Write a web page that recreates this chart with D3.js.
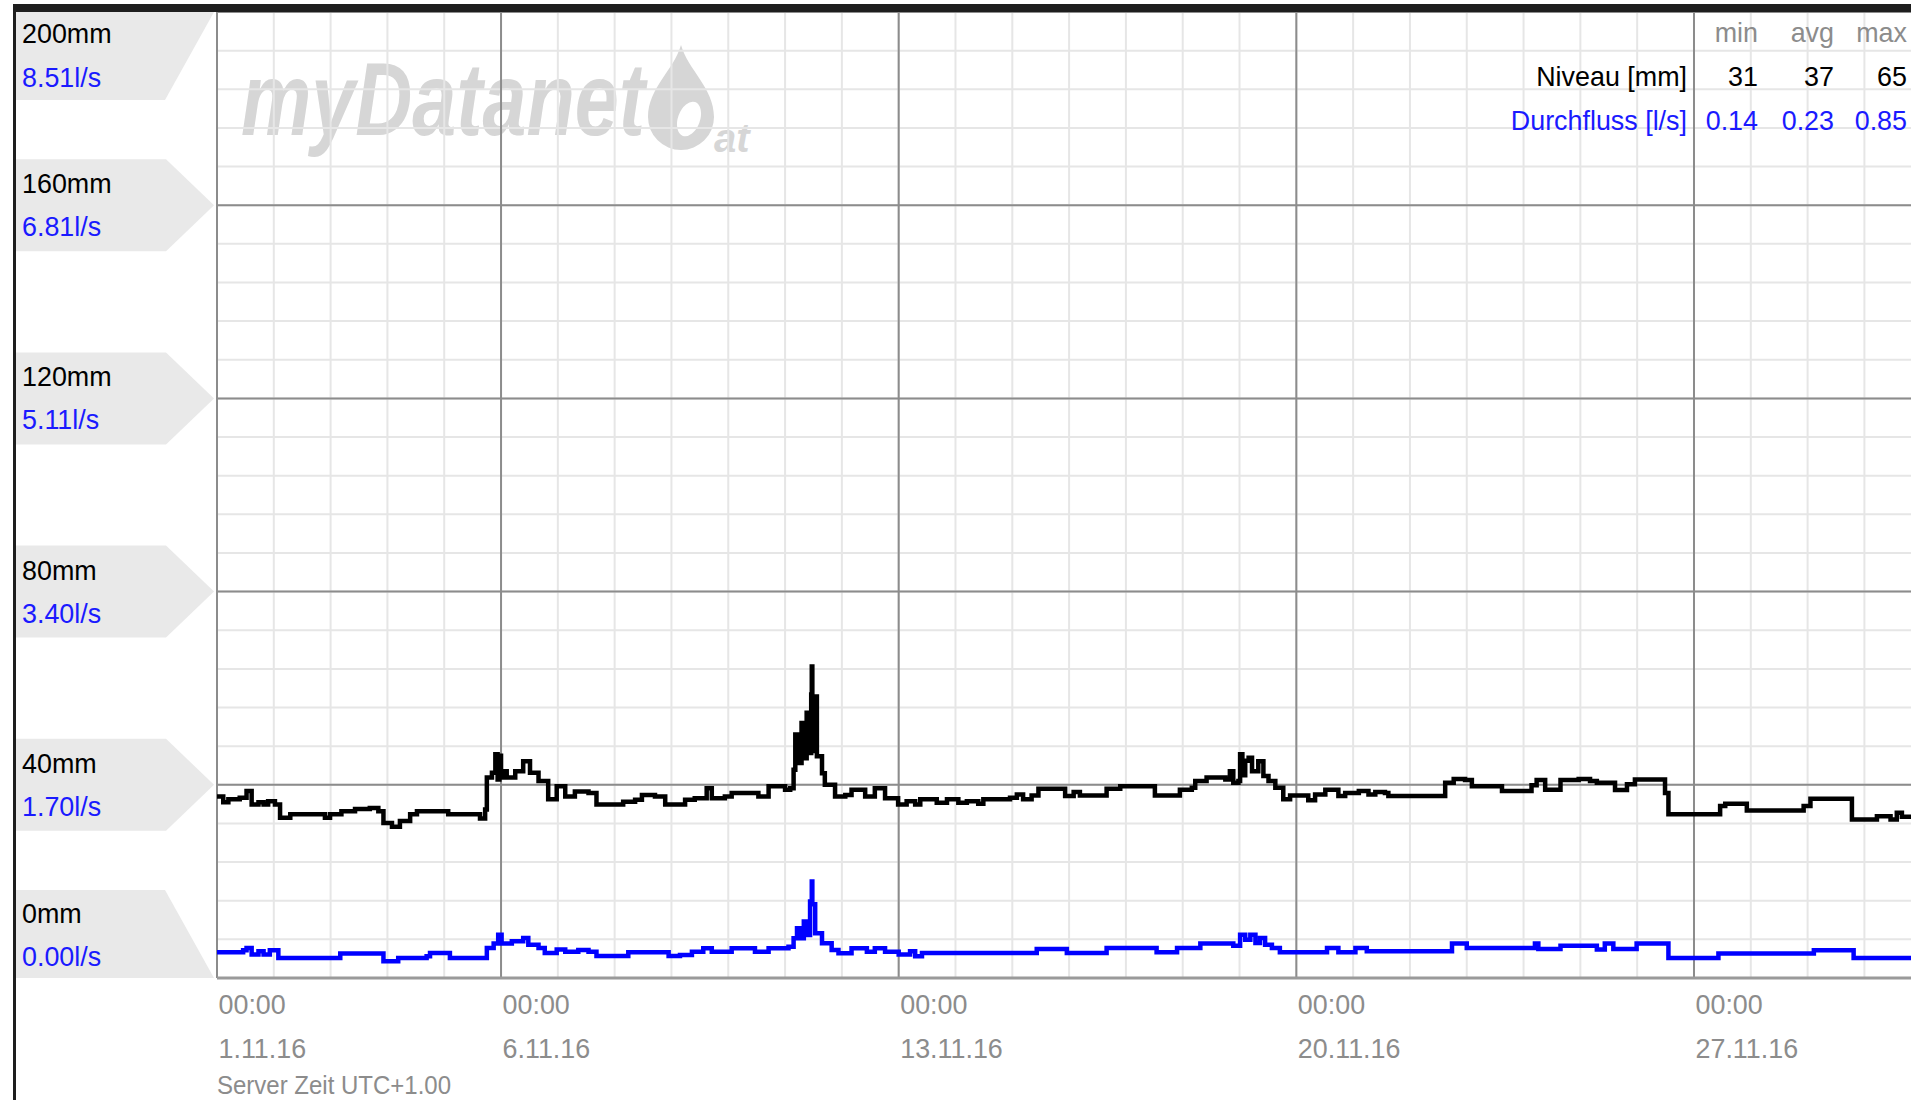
<!DOCTYPE html>
<meta charset="utf-8">
<script src="https://d3js.org/d3.v7.min.js"></script>
<style>
body { margin: 0; background: #fff; }
text { font-family: "Liberation Sans", Arial, sans-serif; font-size: 28px; }
.minor line { stroke: #e6e6e6; stroke-width: 2px; }
.major line { stroke: #8c8c8c; stroke-width: 2px; }
.lbl-box { fill: #e9e9e9; }
.mm { fill: #000; }
.ls { fill: #1a1aff; }
.gray { fill: #8c8c8c; }
.niveau { fill: none; stroke: #000; stroke-width: 4.5px; }
.flow { fill: none; stroke: #0000ff; stroke-width: 4.5px; }
.mark { fill: #d6d6d6; font-weight: bold; font-style: italic; }
</style>
<body></body>
<script>

// Niveau [mm]: [day since 1.11.16 00:00, mm]
var niveau = [
  [0,37.6],[0.11,36.4],[0.2,37.0],[0.4,37.3],[0.52,38.7],[0.61,35.9],[0.73,36.4],[0.82,35.9],[0.9,36.6],[1.02,35.9],
  [1.11,33.2],[1.29,33.9],[1.84,33.9],[1.9,33.2],[1.99,33.9],[2.19,34.5],[2.43,35.0],[2.69,35.2],[2.84,34.5],[2.93,32.1],
  [3.08,31.3],[3.22,32.5],[3.4,33.9],[3.52,34.5],[3.78,34.5],[4.07,33.9],[4.57,33.9],[4.63,33.0],[4.72,34.9],[4.75,41.5],
  [4.84,42.5],[4.9,46.3],[4.94,41.1],[4.97,46],[5.0,41.5],[5.04,42.8],[5.1,41.5],[5.25,42.8],[5.39,44.9],[5.51,42.5],
  [5.66,40.8],[5.83,37.0],[5.98,39.7],[6.13,37.6],[6.3,38.6],[6.54,38.3],[6.68,35.9],[7.07,35.9],[7.15,36.5],[7.36,36.9],
  [7.48,37.9],[7.71,37.6],[7.89,35.9],[8.06,35.9],[8.24,36.9],[8.41,37.2],[8.62,39.3],[8.71,37.2],[8.94,37.6],[9.06,38.3],
  [9.47,38.3],[9.53,37.6],[9.71,39.7],[9.88,39.7],[10.0,39.0],[10.09,39.3],[10.15,43.1],[10.18,50.4],[10.23,44.5],[10.29,52.8],
  [10.35,45.5],[10.38,54.9],[10.42,46.6],[10.46,58.7],[10.47,64.5],[10.48,47],[10.53,58.3],[10.56,45.9],[10.65,42.4],[10.7,40.0],
  [10.88,37.6],[11.06,37.9],[11.17,39.0],[11.41,37.6],[11.58,39.3],[11.76,37.2],[11.99,35.9],[12.14,36.6],[12.29,35.9],[12.38,37.0],
  [12.61,37.0],[12.67,36.3],[12.85,37.0],[13.05,36.3],[13.2,36.6],[13.4,36.1],[13.49,37.0],[13.96,37.3],[14.08,38.0],[14.19,37.0],
  [14.34,37.8],[14.46,39.2],[14.84,39.2],[14.93,37.7],[15.08,38.5],[15.19,37.8],[15.54,37.8],[15.66,39.2],[15.9,39.7],[16.42,39.7],
  [16.51,37.8],[16.84,37.8],[16.95,39.0],[17.16,39.4],[17.22,40.8],[17.42,41.5],[17.75,41.1],[17.83,42.8],[17.89,40.4],[17.98,40.8],
  [18.01,46.3],[18.05,42],[18.1,45],[18.16,45.6],[18.22,42.8],[18.33,44.9],[18.42,41.8],[18.51,40.8],[18.63,39.4],[18.77,37.0],
  [18.89,37.8],[19.15,37.8],[19.21,36.8],[19.33,38.0],[19.51,39.0],[19.68,39.0],[19.74,37.7],[19.86,38.3],[20.1,38.7],[20.27,38.0],
  [20.39,38.5],[20.56,38.3],[20.62,37.7],[21.53,37.7],[21.62,40.4],[21.77,41.2],[21.97,41.0],[22.09,39.7],[22.59,39.7],[22.62,38.7],
  [22.97,38.7],[23.14,39.9],[23.23,41.0],[23.38,39.0],[23.5,39.0],[23.65,41.0],[23.97,41.2],[24.17,40.8],[24.29,40.4],[24.52,40.4],
  [24.61,38.9],[24.82,40.1],[24.96,41.1],[25.43,41.1],[25.49,38.3],[25.55,33.9],[26.34,33.9],[26.46,35.6],[26.55,36.1],[26.81,36.1],
  [26.93,34.7],[27.75,34.7],[27.93,35.6],[28.05,37.1],[28.72,37.1],[28.78,32.8],[29.16,32.8],[29.22,33.5],[29.46,32.8],[29.57,34.2],
  [29.66,33.4],[29.82,33.2]
];

// Durchfluss [l/s]
var flow = [
  [0,0.226],[0.46,0.244],[0.52,0.265],[0.61,0.206],[0.73,0.235],[0.82,0.206],[0.93,0.244],[1.08,0.176],[2.17,0.215],[2.93,0.147],
  [3.19,0.176],[3.69,0.191],[3.75,0.220],[4.10,0.176],[4.75,0.265],[4.87,0.303],[4.95,0.382],[5.01,0.303],[5.19,0.323],[5.39,0.353],
  [5.48,0.294],[5.66,0.265],[5.77,0.220],[5.98,0.250],[6.13,0.232],[6.36,0.247],[6.54,0.232],[6.68,0.194],[7.24,0.226],[7.95,0.194],
  [8.15,0.203],[8.36,0.232],[8.56,0.262],[8.71,0.232],[9.06,0.262],[9.47,0.232],[9.71,0.262],[10.06,0.276],[10.15,0.350],[10.21,0.438],
  [10.27,0.350],[10.33,0.497],[10.38,0.379],[10.44,0.673],[10.47,0.85],[10.48,0.65],[10.53,0.394],[10.65,0.306],[10.82,0.247],[10.94,0.218],
  [11.17,0.262],[11.44,0.232],[11.58,0.262],[11.76,0.232],[12.0,0.206],[12.2,0.235],[12.29,0.191],[12.41,0.220],[14.43,0.256],[14.96,0.220],
  [15.66,0.265],[16.54,0.226],[16.9,0.265],[17.31,0.303],[17.89,0.285],[18.01,0.382],[18.1,0.338],[18.19,0.382],[18.28,0.309],[18.36,0.353],
  [18.45,0.294],[18.57,0.265],[18.71,0.226],[19.54,0.265],[19.74,0.226],[20.04,0.265],[20.24,0.235],[21.74,0.303],[22.0,0.265],[23.2,0.303],
  [23.26,0.256],[23.65,0.285],[24.29,0.25],[24.43,0.303],[24.58,0.256],[24.99,0.303],[25.55,0.176],[26.43,0.215],[28.11,0.244],[28.81,0.176],
  [29.82,0.176]
];

var tickLabels = ["1.11.16", "6.11.16", "13.11.16", "20.11.16", "27.11.16"];
var levelTicks = [0, 40, 80, 120, 160, 200];
var statHead = ["min", "avg", "max"];
var niveauStats = ["31", "37", "65"];
var flowStats = ["0.14", "0.23", "0.85"];
var levelMax = 200, flowMax = 8.51, spanDays = 29.82;

var W = 1917, H = 1100;
var plot = {left: 217, right: 1911, top: 12, bottom: 978};

var start = Date.UTC(2016, 10, 1);
function dayDate(d) { return new Date(start + d * 864e5); }
var parseDay = d3.utcParse("%d.%m.%y");
var tickDates = tickLabels.map(parseDay);

var x = d3.scaleUtc().domain([dayDate(0), dayDate(spanDays)]).range([plot.left, plot.right]);
var y = d3.scaleLinear().domain([0, levelMax]).range([plot.bottom, plot.top]);
var yFlow = d3.scaleLinear().domain([0, flowMax]).range([plot.bottom, plot.top]);

var svg = d3.select("body").append("svg")
    .attr("width", W)
    .attr("height", H);

// text with the narrow look of the original
function label(g, px, py, txt, cls, anchor) {
  return g.append("text")
    .attr("class", cls)
    .attr("text-anchor", anchor || "start")
    .attr("transform", "translate(" + px + "," + py + ") scale(0.96,1)")
    .text(txt);
}

// left label flags
var flags = svg.append("g");
levelTicks.forEach(function(v) {
  var c = y(v), pts, dy;
  if (v === levelMax) {
    pts = [[15, c], [214, c], [165, c + 88], [15, c + 88]];
    dy = [31, 75];
  } else if (v === 0) {
    pts = [[15, c - 88], [165, c - 88], [214, c], [15, c]];
    dy = [-55, -12];
  } else {
    pts = [[15, c - 46], [166, c - 46], [214, c], [166, c + 46], [15, c + 46]];
    dy = [-12, 31];
  }
  flags.append("polygon").attr("class", "lbl-box").attr("points", pts.join(" "));
  label(flags, 22, c + dy[0], v + "mm", "mm");
  label(flags, 22, c + dy[1], d3.format(".2f")(yFlow.invert(c)) + "l/s", "ls");
});

// watermark
var wm = svg.append("g");
wm.append("text").attr("class", "mark")
  .attr("transform", "translate(241,135) scale(0.76,1)")
  .style("font-size", "104px")
  .text("myDatanet");
wm.append("path").attr("fill", "#d6d6d6")
  .attr("d", "M681,45 C688,70 714,88 714,117 A33,33 0 0,1 648,117 C648,88 674,70 681,45 Z");
wm.append("ellipse").attr("fill", "#fff")
  .attr("transform", "translate(689,119) rotate(20)")
  .attr("rx", 11).attr("ry", 18);
wm.append("text").attr("class", "mark")
  .attr("x", 714).attr("y", 152)
  .style("font-size", "40px")
  .text("at");

// grid
var minor = svg.append("g").attr("class", "minor");
minor.selectAll(".v").data(d3.utcDay.range(dayDate(0), dayDate(spanDays)))
  .enter().append("line")
  .attr("x1", function(d) { return x(d); }).attr("x2", function(d) { return x(d); })
  .attr("y1", plot.top).attr("y2", plot.bottom);
minor.selectAll(".h").data(d3.range(0, levelMax + 1, 8))
  .enter().append("line")
  .attr("x1", plot.left).attr("x2", plot.right)
  .attr("y1", function(d) { return y(d); }).attr("y2", function(d) { return y(d); });

var major = svg.append("g").attr("class", "major");
major.selectAll(".v").data([dayDate(0)].concat(d3.utcSunday.range(dayDate(0), dayDate(spanDays))))
  .enter().append("line")
  .attr("x1", function(d) { return x(d); }).attr("x2", function(d) { return x(d); })
  .attr("y1", plot.top).attr("y2", plot.bottom);
major.selectAll(".h").data(levelTicks)
  .enter().append("line")
  .attr("x1", plot.left).attr("x2", plot.right)
  .attr("y1", function(d) { return y(d); }).attr("y2", function(d) { return y(d); })
  .style("stroke-width", function(d) { return d === 0 ? "3px" : null; })
  .style("stroke", function(d) { return d === 0 ? "#9a9a9a" : null; });

// series
svg.append("clipPath").attr("id", "clip").append("rect")
  .attr("x", plot.left).attr("y", plot.top - 5)
  .attr("width", plot.right - plot.left).attr("height", plot.bottom - plot.top + 5);

var lineNiveau = d3.line()
  .curve(d3.curveStepAfter)
  .x(function(d) { return x(dayDate(d[0])); })
  .y(function(d) { return y(d[1]); });
var lineFlow = d3.line()
  .curve(d3.curveStepAfter)
  .x(function(d) { return x(dayDate(d[0])); })
  .y(function(d) { return yFlow(d[1]); });

var series = svg.append("g").attr("clip-path", "url(#clip)");
series.append("path").attr("class", "flow").attr("d", lineFlow(flow));
series.append("path").attr("class", "niveau").attr("d", lineNiveau(niveau));

// x axis
var xAxis = d3.axisBottom(x)
  .tickValues(tickDates)
  .tickSize(0)
  .tickFormat("");

var gx = svg.append("g")
  .attr("transform", "translate(0," + plot.bottom + ")")
  .call(xAxis);
gx.select(".domain").remove();
gx.selectAll(".tick text").remove();
gx.selectAll(".tick").each(function(d) {
  var t = d3.select(this);
  label(t, 1, 36, d3.utcFormat("%H:%M")(d), "gray");
  label(t, 1, 80, d.getUTCDate() + "." + (d.getUTCMonth() + 1) + "." + d3.utcFormat("%y")(d), "gray");
});
label(svg, 217, 1094, "Server Zeit UTC+1.00", "gray").style("font-size", "25px");

// legend top right
var leg = svg.append("g");
var colX = [1758, 1834, 1907];
statHead.forEach(function(s, i) { label(leg, colX[i], 42, s, "gray", "end"); });
label(leg, 1687, 86, "Niveau [mm]", "mm", "end");
niveauStats.forEach(function(s, i) { label(leg, colX[i], 86, s, "mm", "end"); });
label(leg, 1687, 130, "Durchfluss [l/s]", "ls", "end");
flowStats.forEach(function(s, i) { label(leg, colX[i], 130, s, "ls", "end"); });

// frame: dark bar on top, line on the left
svg.append("rect").attr("x", 13).attr("y", 4).attr("width", plot.right - 13).attr("height", 8).attr("fill", "#1e1e1e");
svg.append("rect").attr("x", 13).attr("y", 4).attr("width", 3).attr("height", H - 4).attr("fill", "#1e1e1e");

</script>
